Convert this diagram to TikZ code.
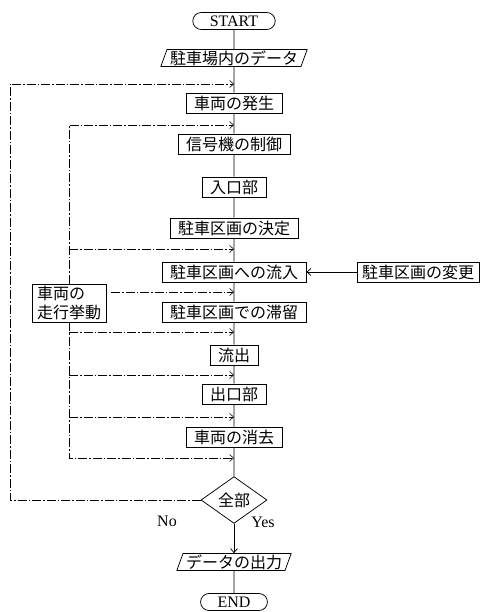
\documentclass[tikz,border=0pt]{standalone}
\usepackage{fontspec}
\setmainfont{Liberation Serif}
\newfontfamily\jp{Noto Sans CJK JP}
\newcommand{\jpf}{\jp\fontsize{16}{19}\selectfont}
\usetikzlibrary{shapes.geometric,arrows.meta}
\tikzset{
  box/.style={draw,font=\jpf,inner xsep=8pt,inner ysep=1pt,minimum height=20pt},
  io/.style={draw,font=\jpf,trapezium,trapezium left angle=70,trapezium right angle=110,
    trapezium stretches body,inner xsep=3pt,inner ysep=1pt,minimum height=17pt},
  term/.style={draw,rounded corners=8.5pt,minimum height=17pt,inner xsep=17pt,inner ysep=0pt},
  decide/.style={draw,font=\jpf,diamond,inner sep=0pt,minimum width=66pt,minimum height=41pt},
  loopline/.style={line width=.55pt,dash pattern=on 9pt off 2pt on 1.5pt off 2pt},
  >={Straight Barb[length=4pt,width=7pt]}
}
\begin{document}
\begin{tikzpicture}[x=1pt,y=-1pt,line width=.75pt,font=\fontsize{16}{18}\selectfont]
\useasboundingbox (0,0) rectangle (483,612);
\node[term] (start) at (234,21) {START};
\node[io] (data) at (234,58) {駐車場内のデータ};
\node[box] (hassei) at (234,103) {車両の発生};
\node[box] (shingo) at (234,144) {信号機の制御};
\node[box] (iri) at (234,187) {入口部};
\node[box] (kettei) at (234,228) {駐車区画の決定};
\node[box] (ryunyu) at (234,272) {駐車区画への流入};
\node[box,inner xsep=5pt] (henko) at (418,272) {駐車区画の変更};
\node[box,align=left,inner xsep=5pt,inner ysep=2pt] (beh) at (69,303) {車両の\\走行挙動};
\node[box] (tairyu) at (234,312) {駐車区画での滞留};
\node[box] (ryushutsu) at (234,355) {流出};
\node[box] (deguchi) at (234,394) {出口部};
\node[box] (shokyo) at (234,437) {車両の消去};
\node[decide] (all) at (234,500) {全部};
\node[io] (out) at (234,562) {データの出力};
\node[term] (end) at (234,602) {END};
\node (no) at (167,521) {No};
\node (yes) at (263,522) {Yes};
% junctions on the main line
\coordinate (j1) at (234,84); \coordinate (j2) at (234,125);
\coordinate (j3) at (234,249); \coordinate (j4) at (234,292);
\coordinate (j5) at (234,332); \coordinate (j6) at (234,375);
\coordinate (j7) at (234,417); \coordinate (j8) at (234,458);
\coordinate (corner) at (10,84);
\draw (start) -- (data) -- (hassei) -- (shingo) -- (iri) -- (kettei) -- (ryunyu)
  -- (tairyu) -- (ryushutsu) -- (deguchi) -- (shokyo) -- (all);
\draw[->] (all) -- (out); \draw (out) -- (end);
\draw[->] (henko) -- (ryunyu);
\draw[loopline,->] (beh.north) |- (j2);
\draw[loopline,->] (beh.north |- j3) -- (j3);
\draw[loopline,->] ([xshift=5pt]beh.east |- j4) -- (j4);
\draw[loopline,->] (beh.south |- j5) -- (j5);
\draw[loopline,->] (beh.south |- j6) -- (j6);
\draw[loopline,->] (beh.south |- j7) -- (j7);
\draw[loopline,->] (beh.south) |- (j8);
\draw[loopline,->] (all.west) -| (corner) -- (j1);
\end{tikzpicture}
\end{document}
